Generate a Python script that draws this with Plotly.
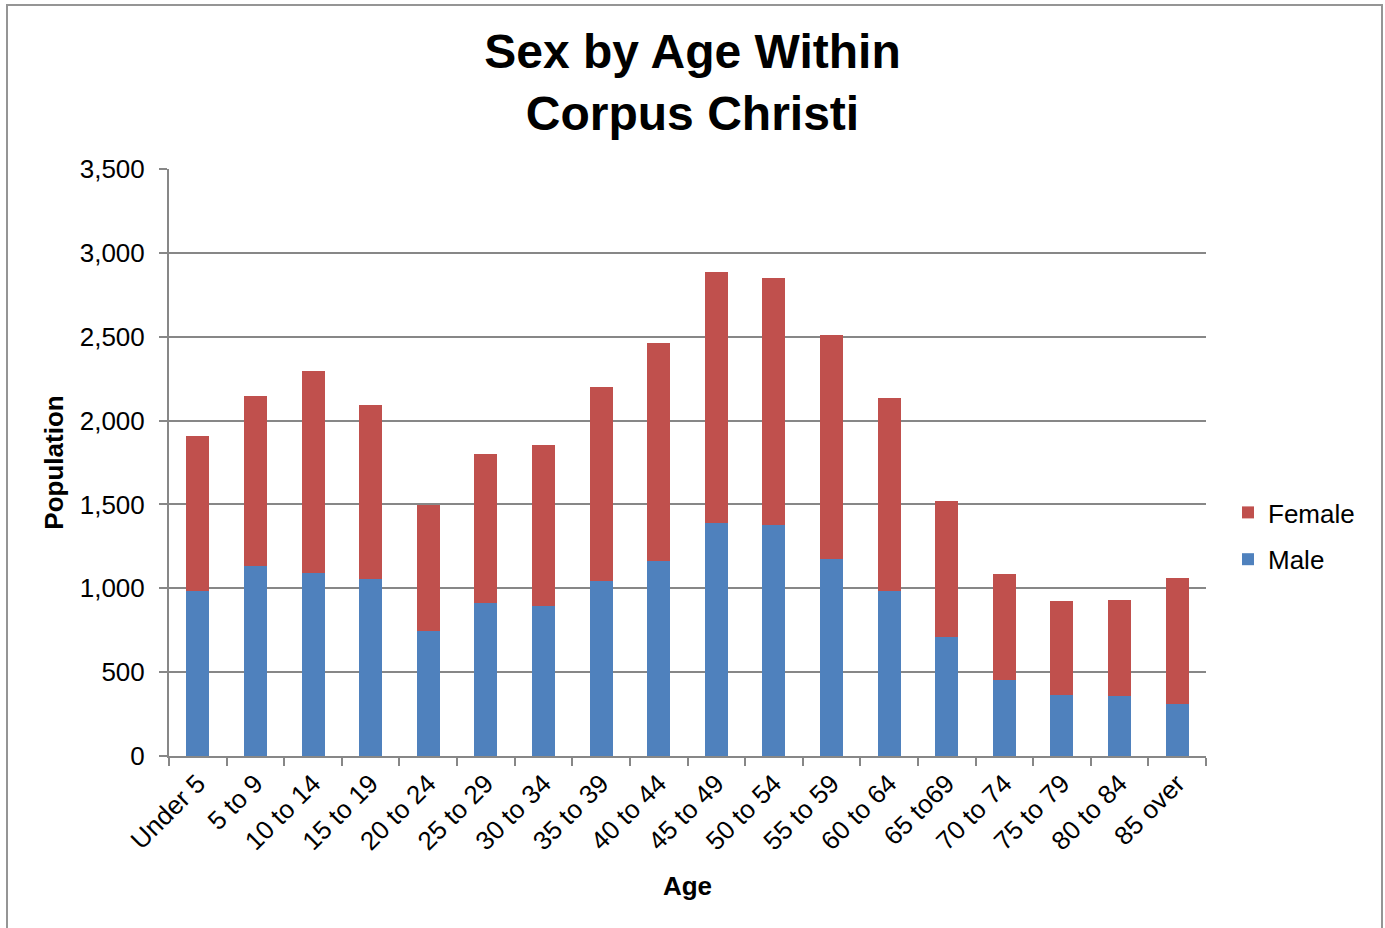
import plotly.graph_objects as go

ages = ["Under 5", "5 to 9", "10 to 14", "15 to 19", "20 to 24", "25 to 29",
        "30 to 34", "35 to 39", "40 to 44", "45 to 49", "50 to 54", "55 to 59",
        "60 to 64", "65 to69", "70 to 74", "75 to 79", "80 to 84", "85 over"]
male = [986, 1132, 1092, 1057, 748, 913, 895, 1045, 1162, 1390, 1380, 1177,
        983, 707, 453, 365, 357, 310]
total = [1908, 2148, 2294, 2095, 1497, 1800, 1856, 2203, 2465, 2887, 2848, 2508,
         2133, 1518, 1083, 927, 932, 1064]
female = [t - m for t, m in zip(total, male)]

FONT = "Liberation Sans, Arial, sans-serif"
GRID = "#878787"

fig = go.Figure()
fig.add_trace(go.Bar(x=ages, y=male, name="Male", legendgroup="m", legendrank=2,
                     marker=dict(color="#4F81BD", line=dict(width=0))))
fig.add_trace(go.Bar(x=ages, y=female, name="Female", legendgroup="f", legendrank=1,
                     marker=dict(color="#C0504D", line=dict(width=0))))

W, H = 1385, 928
L, R, T, B = 169, 1206, 169, 756

def px_x(x):
    return (x - L) / (R - L)

def px_y(y):
    return (B - y) / (B - T)

fig.update_layout(
    width=W, height=H,
    barmode="stack", bargap=0.6,
    plot_bgcolor="white", paper_bgcolor="white",
    margin=dict(l=L, r=W - R, t=T, b=H - B, autoexpand=False),
    font=dict(family=FONT, size=26, color="black"),
    title=dict(text="<b>Sex by Age Within<br>Corpus Christi</b>", x=0.5, xanchor="center",
               y=1 - 68 / H, yanchor="top", yref="container",
               font=dict(family=FONT, size=48, color="black")),
    legend=dict(traceorder="grouped", x=px_x(1228), xanchor="left", y=px_y(489),
                yanchor="top", font=dict(family=FONT, size=26), itemwidth=30,
                tracegroupgap=10, bgcolor="rgba(0,0,0,0)"),
    xaxis=dict(type="category", showgrid=False, showline=True, linecolor=GRID, linewidth=2,
               ticks="outside", tickson="boundaries", ticklen=8, tickcolor=GRID, tickwidth=2,
               tickangle=-45, tickfont=dict(size=26),
               title=dict(text="<b>Age</b>", font=dict(size=26), standoff=22)),
    yaxis=dict(range=[0, 3500], dtick=500, tickformat=",", showgrid=True, gridcolor=GRID,
               gridwidth=2, showline=True, linecolor=GRID, linewidth=2, ticks="outside",
               ticklen=8, tickcolor=GRID, tickwidth=2, tickfont=dict(size=26),
               ticklabelstandoff=9, zeroline=False,
               title=dict(text="<b>Population</b>", font=dict(size=26), standoff=9)),
    shapes=[dict(type="rect", xref="paper", yref="paper",
                 x0=px_x(7), x1=px_x(1382), y0=px_y(940), y1=px_y(5),
                 line=dict(color="#959595", width=2), fillcolor="rgba(0,0,0,0)", layer="below")],
    showlegend=True,
)

fig.write_html("out.html", config={"displayModeBar": False},
               post_script="document.body.style.margin='0px';document.body.style.overflow='hidden';")
